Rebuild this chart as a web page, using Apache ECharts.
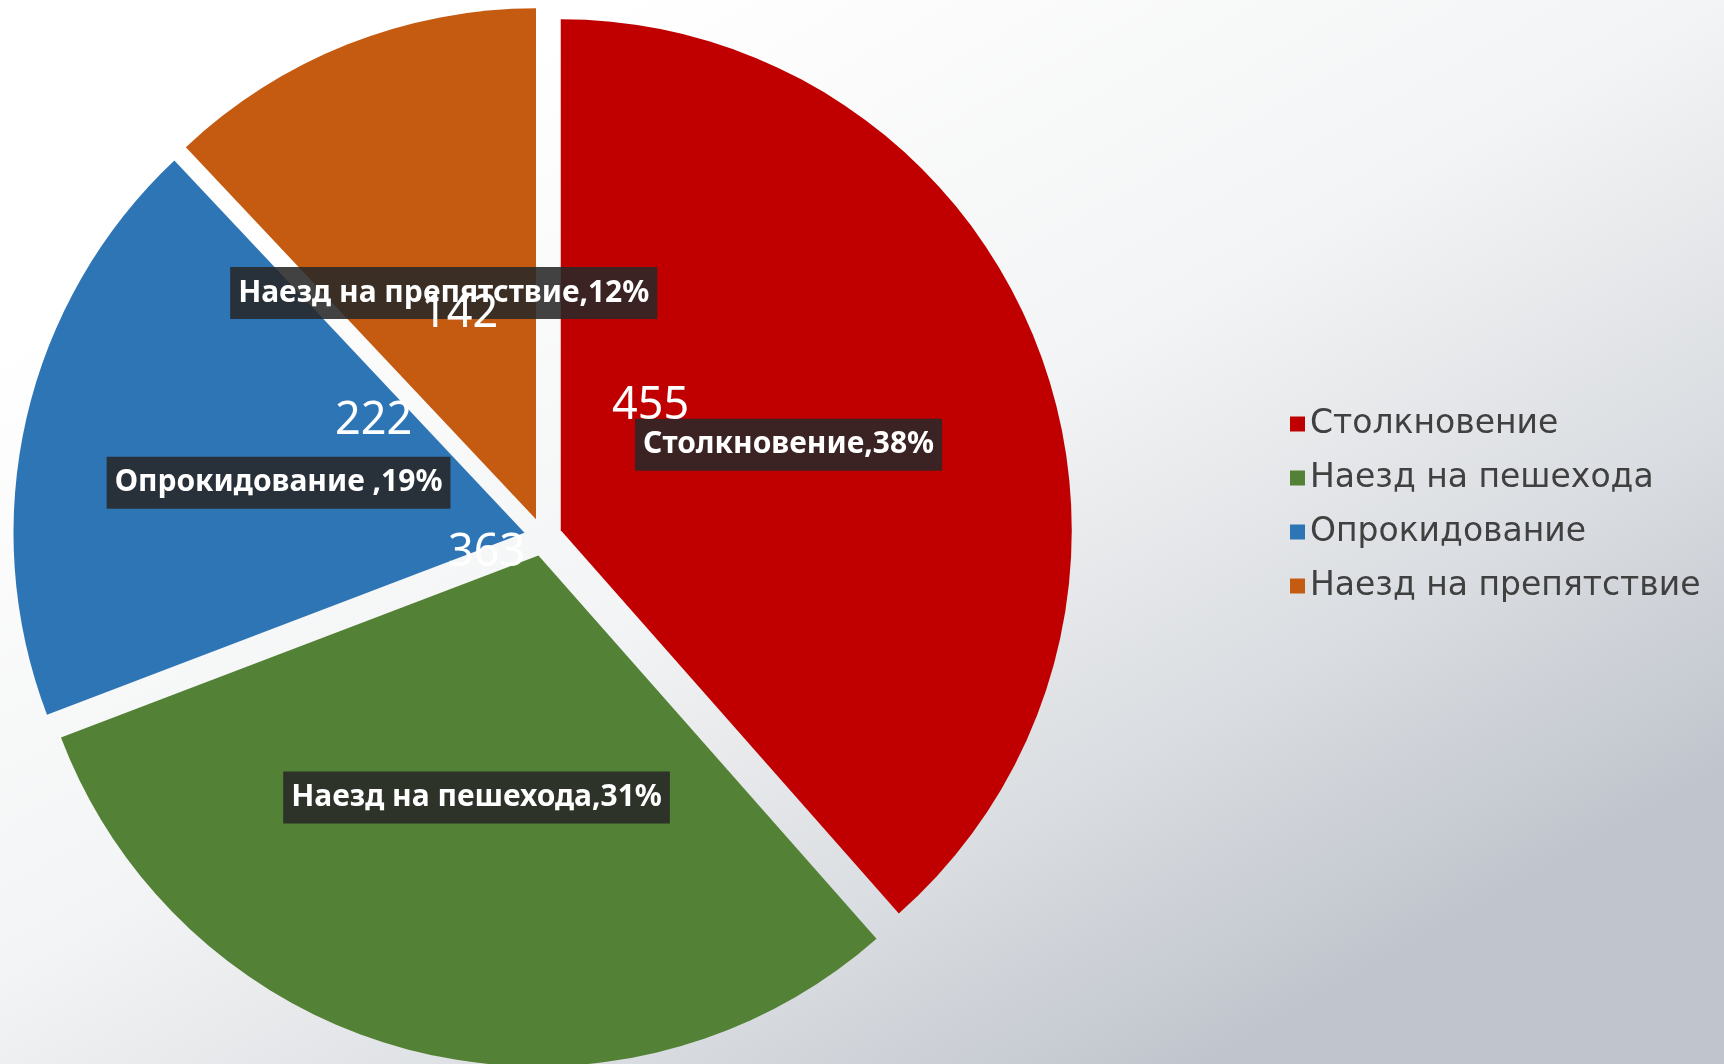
<!DOCTYPE html>
<html>
<head>
<meta charset="utf-8">
<script src="https://cdn.jsdelivr.net/npm/echarts@6/dist/echarts.min.js"></script>
<style>
html,body{margin:0;padding:0;width:1724px;height:1064px;overflow:hidden;}
#chart{width:1724px;height:1064px;}
</style>
</head>
<body>
<div id="chart"></div>
<script>
// ---- data ----
const categories = ['Столкновение', 'Наезд на пешехода', 'Опрокидование', 'Наезд на препятствие'];
const values = [455, 363, 222, 142];
const labelNames = ['Столкновение,', 'Наезд на пешехода,', 'Опрокидование ,', 'Наезд на препятствие,'];

// ---- styles ----
const colors = ['#C00000', '#538135', '#2E75B6', '#C55A11'];
const boxShift = [[-14, 6], [0, -9], [6, 8], [3, 14]];
const valueShift = [[-152, -33], [10, -253], [101, -54], [19, 35]];

const chart = echarts.init(document.getElementById('chart'), null, {renderer: 'canvas'});

const common = {
  type: 'pie',
  center: [543, 537],
  radius: [0, 511],
  startAngle: 90,
  clockwise: true,
  selectedMode: 'multiple',
  selectedOffset: 19,
  percentPrecision: 0,
  animation: false,
  silent: true,
  labelLine: {show: false},
  emphasis: {disabled: true},
  avoidLabelOverlap: false
};

const option = {
  animation: false,
  backgroundColor: new echarts.graphic.LinearGradient(0.35, 0, 0.7, 1, [
    {offset: 0, color: '#ffffff'},
    {offset: 0.45, color: '#f3f4f5'},
    {offset: 0.75, color: '#dadde1'},
    {offset: 1, color: '#c0c5cd'}
  ]),
  legend: {
    orient: 'vertical',
    left: 1285,
    top: 399,
    icon: 'rect',
    itemWidth: 15,
    itemHeight: 15,
    itemGap: 14,
    selectedMode: false,
    textStyle: {fontFamily: 'DejaVu Sans', fontSize: 33, color: '#404040', lineHeight: 40, padding: [0, 0, 0, 0]},
    data: categories.map((c, i) => ({name: c, itemStyle: {color: colors[i]}}))
  },
  series: [
    Object.assign({}, common, {
      name: 'boxes',
      z: 2,
      data: categories.map((c, i) => ({name: c, value: values[i], selected: true, itemStyle: {color: colors[i]}})),
      label: {
        show: true,
        position: 'inside',
        formatter: p => labelNames[p.dataIndex] + p.percent + '%',
        color: '#ffffff',
        fontFamily: 'Noto Sans',
        fontWeight: 'bold',
        fontSize: 30,
        backgroundColor: 'rgba(40,40,40,0.88)',
        padding: [12, 8, 10, 8]
      },
      labelLayout: p => ({dx: boxShift[p.dataIndex][0], dy: boxShift[p.dataIndex][1]})
    }),
    Object.assign({}, common, {
      name: 'values',
      z: 3,
      data: categories.map((c, i) => ({name: c, value: values[i], selected: true, itemStyle: {color: 'rgba(0,0,0,0)'}})),
      label: {
        show: true,
        position: 'inside',
        formatter: '{c}',
        color: '#ffffff',
        fontFamily: 'Noto Sans',
        fontSize: 45
      },
      labelLayout: p => ({dx: valueShift[p.dataIndex][0], dy: valueShift[p.dataIndex][1]})
    })
  ]
};
chart.setOption(option);
</script>
</body>
</html>
